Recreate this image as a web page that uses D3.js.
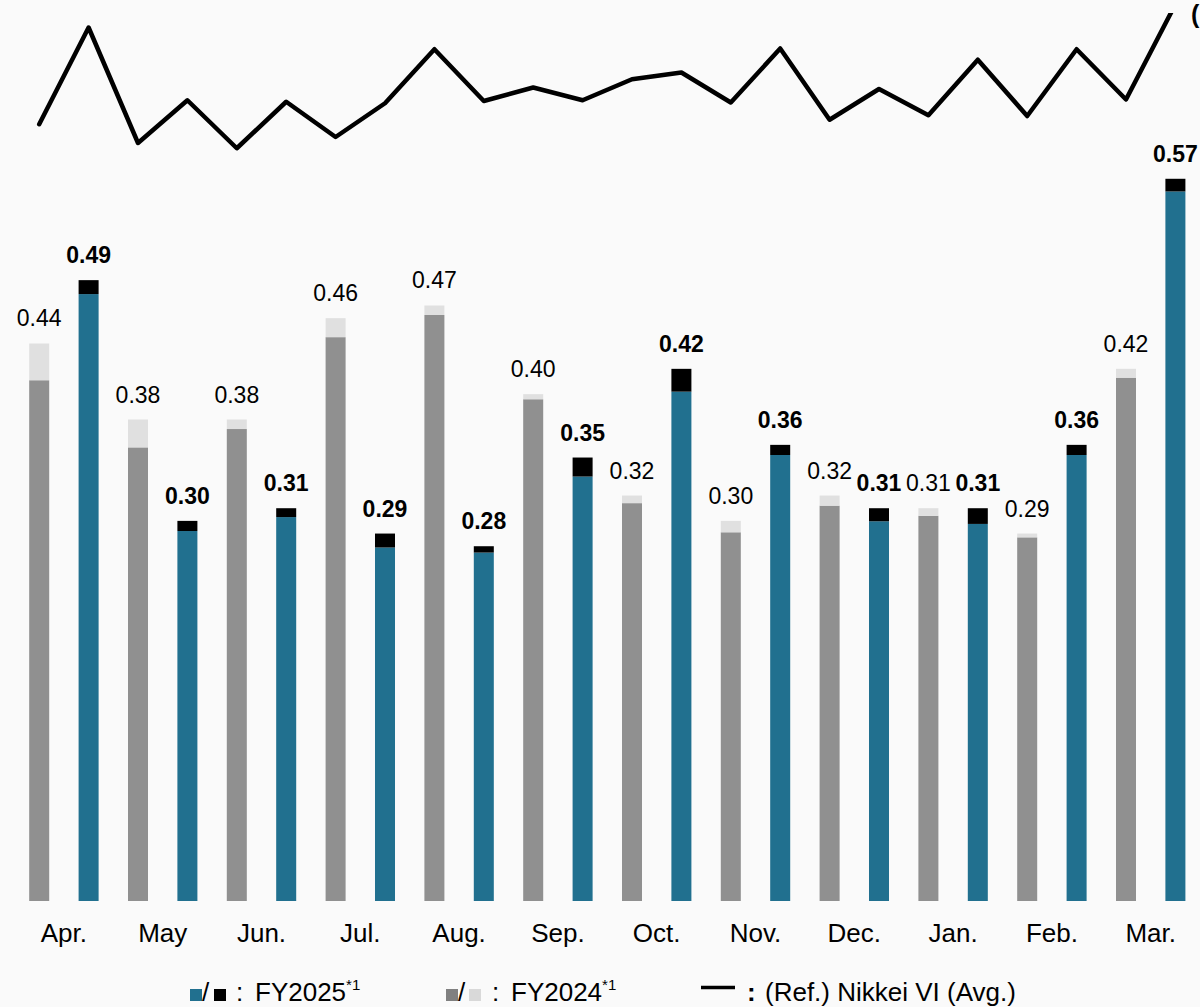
<!DOCTYPE html>
<html>
<head>
<meta charset="utf-8">
<script src="https://cdn.jsdelivr.net/npm/d3@7"></script>
<style>
  html, body { margin: 0; padding: 0; background: #fafafa; }
  svg { display: block; font-family: "Liberation Sans", Arial, Helvetica, sans-serif; }
</style>
</head>
<body>
<svg id="chart" width="1200" height="1007"></svg>
<script>
// ---- data ----
const months = ["Apr.", "May", "Jun.", "Jul.", "Aug.", "Sep.", "Oct.", "Nov.", "Dec.", "Jan.", "Feb.", "Mar."];
// FY2024: base part and total (label)
const fy2024Base  = [0.411, 0.358, 0.3725, 0.445, 0.4625, 0.396, 0.314, 0.291, 0.312, 0.304, 0.287, 0.413];
const fy2024Total = [0.44, 0.38, 0.38, 0.46, 0.47, 0.40, 0.32, 0.30, 0.32, 0.31, 0.29, 0.42];
// FY2025: base part and total (label)
const fy2025Base  = [0.479, 0.292, 0.303, 0.279, 0.275, 0.335, 0.402, 0.352, 0.2997, 0.2976, 0.352, 0.560];
const fy2025Total = [0.49, 0.30, 0.31, 0.29, 0.28, 0.35, 0.42, 0.36, 0.31, 0.31, 0.36, 0.57];
// Nikkei VI (avg.), one point per bar: FY2024 then FY2025 for each month
const nikkeiVI = [21.1, 34.0, 18.6, 24.3, 17.9, 24.1, 19.4, 23.9, 31.1, 24.2, 26.0, 24.3,
                  27.1, 28.0, 24.0, 31.2, 21.7, 25.8, 22.3, 29.7, 22.2, 31.1, 24.4, 37.1];

// ---- colours ----
const C_BLUE = "#21708f", C_BLACK = "#000000", C_GRAY = "#909090", C_LIGHT = "#e0e0e0";

const svg = d3.select("#chart");
svg.append("rect").attr("width", 1200).attr("height", 1007).attr("fill", "#fafafa");

// build 24 bar records
const bars = [];
months.forEach((m, i) => {
  bars.push({key: m + "-24", month: m, fy: 2024, base: fy2024Base[i], total: fy2024Total[i]});
  bars.push({key: m + "-25", month: m, fy: 2025, base: fy2025Base[i], total: fy2025Total[i]});
});
bars.forEach((b, i) => b.vi = nikkeiVI[i]);

const x = d3.scaleBand()
  .domain(bars.map(d => d.key))
  .range([14.5, 1200.1])
  .paddingInner(0.595)
  .paddingOuter(0.2975);

const y = d3.scaleLinear().domain([0, 0.7111]).range([901, 0]);
const yVI = d3.scaleLinear().domain([15, 35]).range([170, 20]);

// bars
const g = svg.append("g");
g.selectAll("rect.base").data(bars).join("rect")
  .attr("x", d => x(d.key))
  .attr("width", x.bandwidth())
  .attr("y", d => y(d.base))
  .attr("height", d => y(0) - y(d.base))
  .attr("fill", d => d.fy === 2025 ? C_BLUE : C_GRAY);

g.selectAll("rect.top").data(bars).join("rect")
  .attr("x", d => x(d.key))
  .attr("width", x.bandwidth())
  .attr("y", d => y(d.total))
  .attr("height", d => y(d.base) - y(d.total))
  .attr("fill", d => d.fy === 2025 ? C_BLACK : C_LIGHT);

// value labels
g.selectAll("text.val").data(bars).join("text")
  .attr("x", d => x(d.key) + x.bandwidth() / 2)
  .attr("y", d => y(d.total) - 17)
  .attr("text-anchor", "middle")
  .attr("font-size", 23)
  .attr("font-weight", d => d.fy === 2025 ? "bold" : "normal")
  .attr("fill", "#000")
  .text(d => d.total.toFixed(2));

// month labels
svg.selectAll("text.month").data(months).join("text")
  .attr("x", m => (x(m + "-24") + x(m + "-25") + x.bandwidth()) / 2)
  .attr("y", 942)
  .attr("text-anchor", "middle")
  .attr("font-size", 26)
  .attr("fill", "#000")
  .text(m => m);

// Nikkei VI line (clipped at top)
svg.append("clipPath").attr("id", "clipTop")
  .append("rect").attr("x", 0).attr("y", 13).attr("width", 1200).attr("height", 1000);
svg.append("path")
  .datum(bars)
  .attr("clip-path", "url(#clipTop)")
  .attr("fill", "none")
  .attr("stroke", "#000")
  .attr("stroke-width", 4.5)
  .attr("stroke-linejoin", "round")
  .attr("stroke-linecap", "round")
  .attr("d", d3.line().x(d => x(d.key) + x.bandwidth() / 2).y(d => yVI(d.vi)));

// label fragment at top right
svg.append("text").attr("x", 1191).attr("y", 23).attr("font-size", 25)
  .attr("font-weight", "bold").text("(");

// ---- legend ----
const lg = svg.append("g").attr("font-size", 26).attr("fill", "#000");
const sq = (x0, col) => lg.append("rect").attr("x", x0).attr("y", 989).attr("width", 12).attr("height", 12).attr("fill", col);
sq(190, C_BLUE);
lg.append("text").attr("x", 202).attr("y", 1001).text("/");
sq(214, C_BLACK);
lg.append("text").attr("x", 236).attr("y", 1001).text(":");
const t1 = lg.append("text").attr("x", 255).attr("y", 1001).text("FY2025");
t1.append("tspan").attr("font-size", 15).attr("dy", -11).text("*1");

sq(446, "#808080");
lg.append("text").attr("x", 458).attr("y", 1001).text("/");
sq(469, "#d9d9d9");
lg.append("text").attr("x", 492).attr("y", 1001).text(":");
const t2 = lg.append("text").attr("x", 511).attr("y", 1001).text("FY2024");
t2.append("tspan").attr("font-size", 15).attr("dy", -11).text("*1");

lg.append("line").attr("x1", 701).attr("x2", 735).attr("y1", 987.5).attr("y2", 987.5)
  .attr("stroke", "#000").attr("stroke-width", 3.5);
lg.append("text").attr("x", 747).attr("y", 1001).attr("font-weight", "bold").text(":");
lg.append("text").attr("x", 765).attr("y", 1001).text("(Ref.) Nikkei VI (Avg.)");
</script>
</body>
</html>
